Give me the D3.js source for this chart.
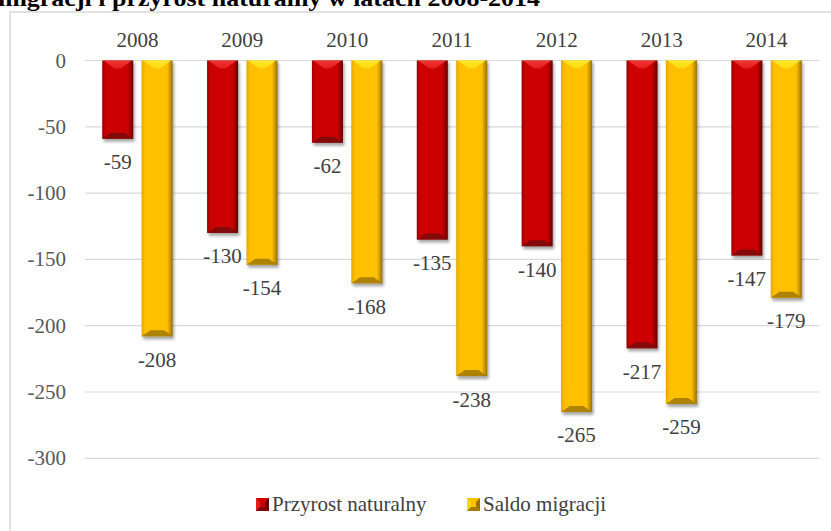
<!DOCTYPE html>
<html>
<head>
<meta charset="utf-8">
<script src="https://cdn.jsdelivr.net/npm/d3@7/dist/d3.min.js"></script>
<style>
html,body{margin:0;padding:0;background:#fff;}
svg{display:block;}
</style>
</head>
<body>
<svg id="chart" width="831" height="531"></svg>
<script>
const title = "migracji i przyrost naturalny w latach 2008-2014";
const years = ["2008","2009","2010","2011","2012","2013","2014"];
const seriesNames = ["Przyrost naturalny","Saldo migracji"];
const przyrost = [-59,-130,-62,-135,-140,-217,-147];
const saldo = [-208,-154,-168,-238,-265,-259,-179];
const yTicks = [0,-50,-100,-150,-200,-250,-300];

const svg = d3.select("#chart");
const FONT = "Liberation Serif, Times New Roman, serif";

const pal = [
  {base:"#cc0000", left:"#9c0000", right:"#650000", top:"#e41c1c", topMid:"#f03838", bottom:"#7c0a0a"},
  {base:"#ffc000", left:"#e6a800", right:"#9a7200", top:"#ffd80a", topMid:"#ffea30", bottom:"#a57c00"}
];

const defs = svg.append("defs");
pal.forEach((p,i)=>{
  const g = defs.append("linearGradient").attr("id","hg"+i).attr("x1","0").attr("x2","1").attr("y1","0").attr("y2","0");
  g.append("stop").attr("offset","0").attr("stop-color",p.left);
  g.append("stop").attr("offset","0.12").attr("stop-color",p.base);
  g.append("stop").attr("offset","0.82").attr("stop-color",p.base);
  g.append("stop").attr("offset","1").attr("stop-color",p.right);
  const t = defs.append("linearGradient").attr("id","tg"+i).attr("x1","0").attr("x2","0").attr("y1","0").attr("y2","1");
  t.append("stop").attr("offset","0").attr("stop-color",p.topMid);
  t.append("stop").attr("offset","1").attr("stop-color",p.top);
});
const blur = defs.append("filter").attr("id","shadow").attr("x","-50%").attr("y","-50%").attr("width","200%").attr("height","200%");
blur.append("feGaussianBlur").attr("stdDeviation",1.8);

// frame
svg.append("rect").attr("x",10).attr("y",12).attr("width",830).attr("height",530)
  .attr("fill","none").attr("stroke","#d9d9d9").attr("stroke-width",1.5);

// title (cut at top, as in the reference)
svg.append("text").attr("x",-2).attr("y",6)
  .attr("font-family",FONT).attr("font-weight","bold").attr("font-size",24)
  .attr("textLength",542).attr("lengthAdjust","spacingAndGlyphs")
  .attr("fill","#000").text(title);

const x0 = d3.scaleBand().domain(years).range([85,819]).padding(0);
const x1 = d3.scaleBand().domain(seriesNames).range([0,x0.bandwidth()]).paddingInner(0.213).paddingOuter(0.437);
const y = d3.scaleLinear().domain([-300,0]).range([458.3,60.5]);

// gridlines
svg.append("g").selectAll("line").data(yTicks).join("line")
  .attr("x1",85).attr("x2",819)
  .attr("y1",d=>y(d)).attr("y2",d=>y(d))
  .attr("stroke","#d9d9d9").attr("stroke-width",1.2);

// y labels
svg.append("g").selectAll("text").data(yTicks).join("text")
  .attr("x",66).attr("y",d=>y(d)+7)
  .attr("text-anchor","end").attr("font-family",FONT).attr("font-size",21)
  .attr("fill","#595959").text(d=>d);

// year labels
svg.append("g").selectAll("text").data(years).join("text")
  .attr("x",d=>x0(d)+x0.bandwidth()/2).attr("y",47)
  .attr("text-anchor","middle").attr("font-family",FONT).attr("font-size",21)
  .attr("fill","#404040").text(d=>d);

const data = [];
years.forEach((yr,i)=>{
  data.push({year:yr, s:0, v:przyrost[i]});
  data.push({year:yr, s:1, v:saldo[i]});
});

function drawBar(g, x, y0, w, h, s, shadow){
  const p = pal[s];
  const y1 = y0 + h;
  if (shadow) {
    g.append("rect").attr("x",x+1.5).attr("y",y0+2).attr("width",w).attr("height",h+1)
      .attr("fill","#000").attr("opacity",0.35).attr("filter","url(#shadow)");
  }
  g.append("rect").attr("x",x).attr("y",y0).attr("width",w).attr("height",h).attr("fill","url(#hg"+s+")");
  const b = Math.min(8, h/3);
  g.append("polygon").attr("points",[
    [x+1.5,y0],[x+w-1.5,y0],[x+w*0.6,y0+b],[x+w*0.4,y0+b]].map(q=>q.join(",")).join(" "))
    .attr("fill","url(#tg"+s+")");
  const bb = Math.min(6, h/3);
  g.append("polygon").attr("points",[
    [x,y1],[x+w,y1],[x+w*0.72,y1-bb],[x+w*0.28,y1-bb]].map(q=>q.join(",")).join(" "))
    .attr("fill",p.bottom).attr("opacity",0.9);
}

const barsG = svg.append("g");
data.forEach(d=>{
  const bx = x0(d.year) + x1(seriesNames[d.s]);
  const top = y(0);
  const h = y(d.v) - y(0);
  drawBar(barsG.append("g"), bx, top, x1.bandwidth(), h, d.s, true);
});

// data labels
svg.append("g").selectAll("text").data(data).join("text")
  .attr("x",d=>x0(d.year)+x1(seriesNames[d.s])+x1.bandwidth()/2)
  .attr("y",d=>y(d.v)+30.5)
  .attr("text-anchor","middle").attr("font-family",FONT).attr("font-size",21)
  .attr("fill","#404040").text(d=>d.v);

// legend
const legendItems = [{name:seriesNames[0], s:0, x:256},{name:seriesNames[1], s:1, x:467}];
const lg = svg.append("g");
legendItems.forEach(it=>{
  const g = lg.append("g");
  g.append("rect").attr("x",it.x).attr("y",498).attr("width",13).attr("height",13).attr("fill",pal[it.s].base);
  g.append("polygon").attr("points",[[it.x,498],[it.x+4,502],[it.x+4,507],[it.x,511]].map(q=>q.join(",")).join(" ")).attr("fill",pal[it.s].top);
  g.append("polygon").attr("points",[[it.x+13,498],[it.x+9,502],[it.x+9,507],[it.x+13,511]].map(q=>q.join(",")).join(" ")).attr("fill",pal[it.s].right);
  g.append("polygon").attr("points",[[it.x,511],[it.x+13,511],[it.x+9,507],[it.x+4,507]].map(q=>q.join(",")).join(" ")).attr("fill",pal[it.s].bottom);
  g.append("text").attr("x",it.x+16).attr("y",511)
    .attr("font-family",FONT).attr("font-size",21).attr("fill","#404040").text(it.name);
});
</script>
</body>
</html>
